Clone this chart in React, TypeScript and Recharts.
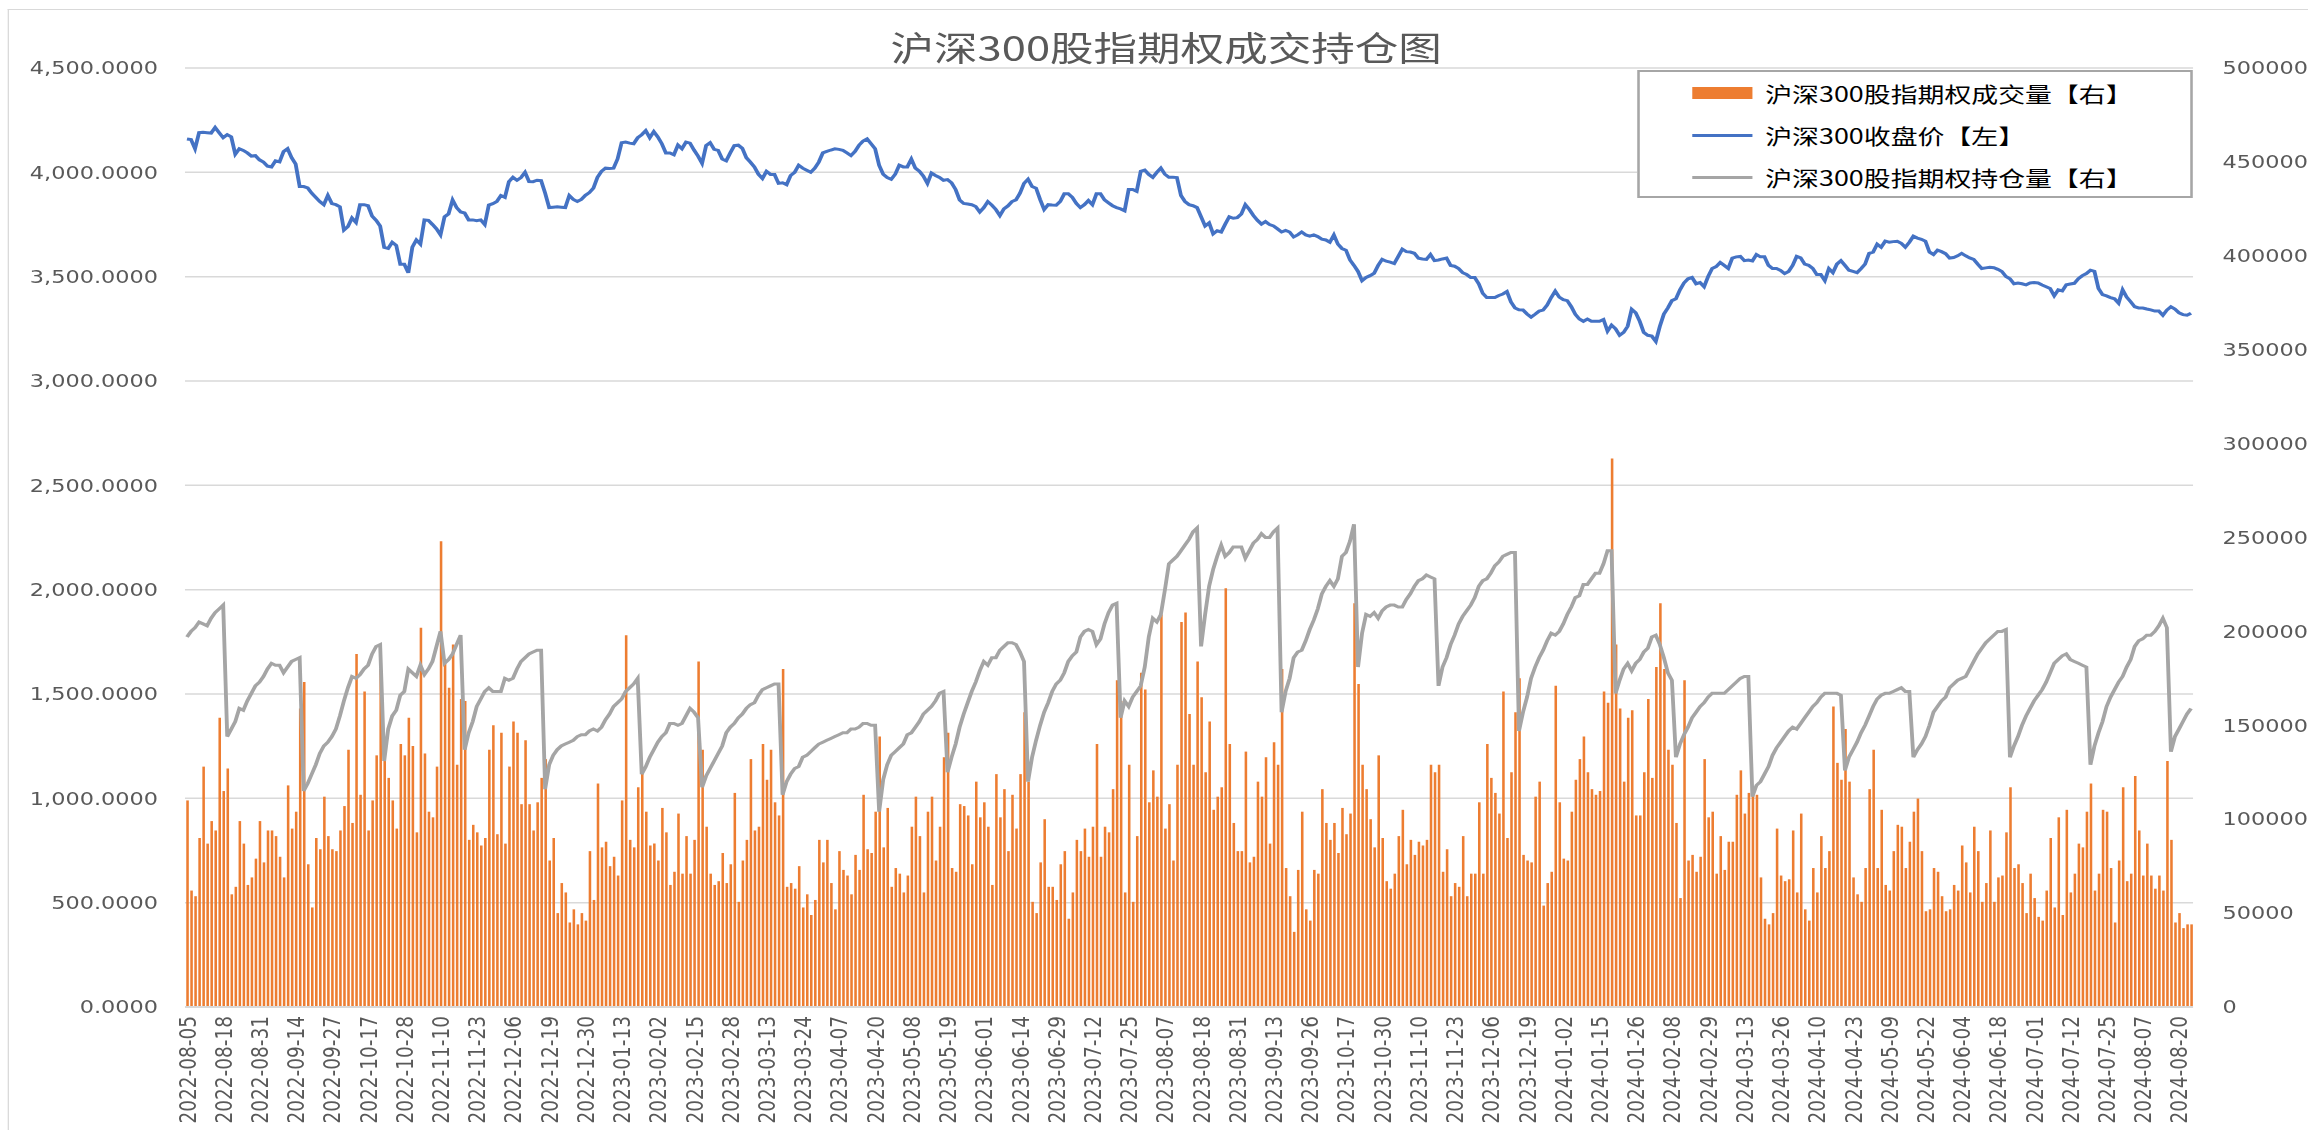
import React from "react";
import { ComposedChart, Bar, Line, XAxis, YAxis, CartesianGrid, Legend } from "recharts";

// The reference picture is stretched sideways; draw at a narrower base width and stretch back.
const W = 1803;
const H = 1130;
const STRETCH = 2308 / W;

const xLabels = [
  "2022-08-05", "2022-08-18", "2022-08-31", "2022-09-14", "2022-09-27", "2022-10-17", "2022-10-28",
  "2022-11-10", "2022-11-23", "2022-12-06", "2022-12-19", "2022-12-30", "2023-01-13", "2023-02-02",
  "2023-02-15", "2023-02-28", "2023-03-13", "2023-03-24", "2023-04-07", "2023-04-20", "2023-05-08",
  "2023-05-19", "2023-06-01", "2023-06-14", "2023-06-29", "2023-07-12", "2023-07-25", "2023-08-07",
  "2023-08-18", "2023-08-31", "2023-09-13", "2023-09-26", "2023-10-17", "2023-10-30", "2023-11-10",
  "2023-11-23", "2023-12-06", "2023-12-19", "2024-01-02", "2024-01-15", "2024-01-26", "2024-02-08",
  "2024-02-29", "2024-03-13", "2024-03-26", "2024-04-10", "2024-04-23", "2024-05-09", "2024-05-22",
  "2024-06-04", "2024-06-18", "2024-07-01", "2024-07-12", "2024-07-25", "2024-08-07", "2024-08-20",
];

// 沪深300收盘价, one value per trading day
const closePrice = [
  4160, 4157, 4113, 4190, 4192, 4190, 4188, 4215, 4190, 4166, 4180, 4170, 4087, 4113, 4105, 4093, 4078, 4080,
  4060, 4049, 4030, 4026, 4055, 4050, 4099, 4113, 4070, 4040, 3932, 3932, 3925, 3900, 3880, 3860, 3845, 3889,
  3850, 3845, 3835, 3723, 3740, 3781, 3760, 3845, 3845, 3840, 3790, 3770, 3743, 3640, 3635, 3665, 3650, 3560,
  3560, 3519, 3641, 3676, 3656, 3772, 3770, 3750, 3729, 3700, 3787, 3801, 3868, 3831, 3810, 3805, 3772, 3772,
  3768, 3772, 3750, 3843, 3850, 3860, 3889, 3880, 3956, 3976, 3962, 3975, 4000, 3956, 3955, 3962, 3960, 3900,
  3831, 3833, 3835, 3833, 3831, 3889, 3870, 3860, 3870, 3890, 3903, 3924, 3976, 4005, 4020, 4018, 4020, 4064,
  4142, 4145,
  4140, 4137, 4166, 4180, 4200, 4166, 4195, 4170, 4137, 4093, 4093, 4084, 4131, 4113, 4145, 4140, 4107, 4078,
  4043, 4128, 4142, 4110, 4105, 4064, 4055, 4093, 4128, 4130, 4115, 4070, 4049, 4026, 3991, 3970, 4005, 3990,
  3990, 3947, 3950, 3941, 3985, 4000, 4034, 4020, 4010, 4000, 4020, 4049, 4093, 4100, 4107, 4113, 4110, 4105,
  4093, 4080,
  4100, 4130, 4150, 4160, 4137, 4113, 4034, 3991, 3975, 3967, 3991, 4034, 4026, 4026, 4064, 4020, 4005, 3982,
  3947, 3997, 3985, 3976, 3962, 3965, 3950, 3918, 3868, 3851, 3848, 3845, 3836, 3810, 3831, 3860, 3843, 3822,
  3793, 3825, 3839, 3860, 3868, 3900, 3947, 3967, 3932, 3924, 3870, 3822, 3845, 3843, 3842, 3860, 3897, 3897,
  3880,
  3851, 3831, 3845, 3865, 3845, 3897, 3897, 3868, 3854, 3840, 3831, 3825, 3816, 3918, 3918, 3909, 4005, 4011,
  3990, 3976, 4000, 4020, 3991, 3976, 3976, 3975, 3889, 3860, 3845, 3840, 3831, 3787, 3743, 3758, 3705, 3720,
  3714, 3752, 3787, 3780, 3783, 3800, 3845, 3822, 3793, 3770, 3752, 3764, 3750, 3743, 3729, 3714, 3722, 3714,
  3690, 3700,
  3714, 3700, 3694, 3700, 3692, 3680, 3676, 3665, 3700, 3656, 3635, 3627, 3580, 3554, 3525, 3481, 3496, 3505,
  3516, 3554, 3583, 3574, 3570, 3563, 3597, 3632, 3620, 3618, 3612, 3589, 3585, 3583, 3606, 3577, 3580, 3585,
  3589, 3554, 3550, 3539, 3519, 3510, 3496, 3496, 3466, 3420, 3400, 3400, 3400, 3410, 3417, 3429, 3379, 3350,
  3341, 3340,
  3321, 3306, 3320, 3335, 3340, 3364, 3400, 3431, 3402, 3390, 3385, 3356, 3320, 3297, 3286, 3297, 3286, 3286,
  3286, 3295, 3239, 3268, 3250, 3219, 3233, 3262, 3344, 3327, 3286, 3233, 3219, 3215, 3190, 3262, 3321, 3350,
  3385, 3394, 3437, 3470, 3490, 3496, 3466, 3472, 3452, 3501, 3539, 3548, 3568, 3554, 3539, 3589, 3595, 3597,
  3577, 3580,
  3575, 3606, 3595, 3595, 3554, 3539, 3539, 3530, 3515, 3525, 3554, 3597, 3590, 3560, 3554, 3540, 3510, 3510,
  3481, 3539, 3519, 3560, 3577, 3554, 3531, 3525, 3519, 3539, 3560, 3612, 3618, 3656, 3641, 3670, 3665, 3668,
  3670, 3660, 3641, 3665, 3694, 3685, 3679, 3670, 3618, 3606, 3627, 3620, 3610, 3589, 3592, 3600, 3612, 3600,
  3590, 3583,
  3560, 3539, 3542, 3545, 3543, 3535, 3525, 3501, 3490, 3466, 3470, 3466, 3461, 3470, 3472, 3470, 3460, 3452,
  3443, 3408, 3437, 3432, 3461, 3465, 3468, 3490, 3505, 3515, 3531, 3525, 3443, 3414, 3408, 3400, 3394, 3373,
  3437, 3402, 3380, 3356, 3350, 3350, 3345, 3341, 3335, 3335, 3315, 3340, 3356, 3345, 3327, 3318, 3315, 3325,
];

// 沪深300股指期权成交量 (contracts)
const optionVolume = [
  110000, 62000, 59000, 90000, 128000, 87000, 99000, 94000, 154000, 115000, 127000, 60000, 64000, 99000,
  87000, 65000, 69000, 79000, 99000, 77000, 94000, 94000, 91000, 80000, 69000, 118000, 95000, 104000,
  159000, 173000, 76000, 53000, 90000, 84000, 112000, 91000, 84000, 83000, 94000, 107000, 137000, 98000,
  188000, 113000, 168000, 94000, 110000, 134000, 180000, 142000, 122000, 110000, 95000, 140000,
  134000, 154000, 139000, 93000, 202000, 135000, 104000, 101000, 128000, 248000, 183000, 170000, 193000, 129000,
  164000, 163000, 89000, 97000, 93000, 86000, 90000, 137000, 150000, 92000, 146000, 87000, 128000, 152000,
  146000, 108000, 142000, 108000, 94000, 109000, 122000, 132000, 78000, 90000, 50000, 66000, 61000, 45000,
  52000, 44000, 50000, 46000, 83000, 57000, 119000, 85000, 88000, 75000, 80000, 70000, 110000, 198000,
  89000, 85000, 117000, 125000, 104000, 86000, 87000, 78000, 106000, 93000, 65000, 72000, 103000, 71000,
  91000, 71000, 89000, 184000, 137000, 96000, 71000, 65000, 67000, 82000, 66000, 76000, 114000, 56000,
  78000, 89000, 132000, 94000, 96000, 140000, 121000, 137000, 109000, 102000, 180000, 64000, 66000, 63000,
  75000, 53000, 60000, 49000, 57000, 89000, 77000, 89000, 66000, 52000, 83000, 73000, 70000, 60000,
  81000, 73000, 113000, 84000, 82000, 104000, 144000, 85000, 106000, 64000, 74000, 71000, 61000, 70000,
  96000, 112000, 91000, 61000, 104000, 112000, 78000, 96000, 133000, 146000, 74000, 72000, 108000, 107000,
  102000, 76000, 120000, 101000, 109000, 96000, 65000, 124000, 101000, 116000, 83000, 113000, 95000, 124000,
  157000, 120000, 56000, 50000, 77000, 100000, 64000, 64000, 57000, 76000, 83000, 47000, 61000,
  89000, 83000, 95000, 80000, 96000, 140000, 80000, 96000, 93000, 116000, 174000, 163000, 61000, 129000,
  56000, 91000, 178000, 169000, 109000, 126000, 112000, 209000, 95000, 108000, 78000, 129000, 205000, 210000,
  156000, 129000, 184000, 165000, 125000, 152000, 105000, 112000, 117000, 223000, 140000, 98000, 83000, 83000,
  136000, 77000, 80000, 120000, 112000, 133000, 87000, 141000, 129000, 180000, 74000, 59000, 40000, 73000,
  104000, 52000, 46000, 73000, 71000, 116000, 98000, 89000, 98000, 82000, 106000, 92000, 103000, 215000,
  172000, 129000, 116000, 100000, 85000, 134000, 90000, 67000, 63000, 71000, 91000, 105000, 76000, 89000,
  81000, 88000, 86000, 89000, 129000, 125000, 129000, 72000, 84000, 59000, 66000, 64000, 91000, 59000,
  71000, 71000, 109000, 71000, 140000, 122000, 114000, 103000, 168000, 90000, 125000, 157000, 175000, 81000,
  78000, 77000, 112000, 120000, 54000, 66000, 72000, 171000, 109000, 79000, 78000, 104000, 121000, 132000,
  144000, 125000, 116000, 113000, 115000, 168000, 162000, 292000, 193000, 159000, 120000, 154000, 158000, 102000,
  102000, 125000, 164000, 122000, 181000, 215000, 180000, 137000, 129000, 98000, 58000, 174000, 78000, 81000,
  72000, 80000, 132000, 101000, 104000, 71000, 91000, 73000, 88000, 88000, 113000, 126000, 103000, 114000,
  113000, 113000, 69000, 47000, 44000, 50000, 95000, 70000, 67000, 68000, 94000, 61000, 103000, 52000,
  46000, 74000, 61000, 91000, 74000, 83000, 160000, 130000, 121000, 148000, 120000, 69000, 60000, 56000,
  74000, 116000, 137000, 74000, 105000, 65000, 62000, 83000, 97000, 96000, 74000, 88000, 104000, 111000,
  83000, 51000, 52000, 74000, 72000, 59000, 51000, 52000, 65000, 62000, 86000, 77000, 61000, 96000,
  83000, 56000, 66000, 94000, 56000, 69000, 70000, 93000, 117000, 74000, 76000, 66000, 50000, 71000,
  58000, 48000, 46000, 62000, 90000, 53000, 101000, 49000, 105000, 61000, 71000, 87000, 85000, 104000,
  119000, 62000, 71000, 105000, 104000, 74000, 45000, 78000, 117000, 67000, 71000, 123000, 94000, 70000,
  87000, 70000, 63000, 70000, 62000, 131000, 89000, 45000, 50000, 42000, 44000, 44000,
];

// 沪深300股指期权持仓量 (contracts)
const openInterest = [
  197000, 200000, 202000, 205000, 204000, 203000, 207000, 210000, 212000, 214000, 144000, 148000, 152000, 159000,
  158000, 163000, 167000, 171000, 173000, 176000, 180000, 183000, 182000, 182000, 178000, 181000, 184000, 185000,
  186000, 115000, 119000, 124000, 129000, 135000, 139000, 141000, 144000, 148000, 155000, 163000, 170000, 176000,
  175000, 177000, 180000, 182000, 188000, 192000, 193000, 131000, 148000, 155000, 158000, 166000,
  168000, 180000, 178000, 176000, 182000, 177000, 180000, 184000, 192000, 200000, 183000, 185000, 188000, 193000,
  198000, 137000, 146000, 152000, 160000, 164000, 168000, 170000, 168000, 168000, 168000, 175000, 174000, 175000,
  180000, 184000, 186000, 188000, 189000, 190000, 190000, 116000, 129000, 134000, 137000, 139000, 140000, 141000,
  142000, 144000, 145000, 145000, 147000, 148000, 147000, 149000, 153000, 156000, 160000, 162000, 164000, 168000,
  170000, 172000, 175000, 124000, 128000, 133000, 137000, 141000, 144000, 146000, 151000, 151000, 150000, 151000,
  155000, 159000, 157000, 154000, 117000, 123000, 127000, 131000, 135000, 139000, 146000, 149000, 151000, 154000,
  156000, 159000, 161000, 162000, 166000, 169000, 170000, 171000, 172000, 172000, 113000, 120000, 124000, 127000,
  128000, 133000, 134000, 136000, 138000, 140000, 141000, 142000, 143000, 144000, 145000, 146000, 146000, 148000,
  148000, 149000, 151000, 151000, 150000, 150000, 104000, 121000, 129000, 134000, 136000, 138000, 140000, 145000,
  146000, 149000, 152000, 156000, 158000, 160000, 163000, 167000, 168000, 125000, 133000, 140000, 149000, 156000,
  162000, 168000, 173000, 179000, 184000, 182000, 186000, 186000, 190000, 192000, 194000, 194000, 193000, 189000,
  184000, 120000, 133000, 142000, 150000, 157000, 162000, 168000, 172000, 174000, 178000, 184000, 187000,
  189000, 197000, 200000, 201000, 200000, 193000, 196000, 204000, 210000, 214000, 215000, 154000, 163000, 160000,
  165000, 168000, 171000, 181000, 197000, 207000, 205000, 209000, 222000, 236000, 238000, 240000, 243000, 246000,
  249000, 253000, 255000, 192000, 209000, 224000, 233000, 240000, 246000, 240000, 242000, 245000, 245000, 245000,
  239000, 243000, 247000, 249000, 252000, 250000, 250000, 253000, 255000, 157000, 168000, 175000, 186000, 189000,
  190000, 195000, 201000, 206000, 212000, 220000, 224000, 227000, 224000, 228000, 240000, 242000, 248000, 257000,
  181000, 199000, 209000, 208000, 210000, 207000, 211000, 213000, 214000, 214000, 213000, 213000, 217000, 220000,
  224000, 227000, 228000, 230000, 229000, 228000, 171000, 181000, 186000, 193000, 198000, 204000, 208000, 211000,
  214000, 218000, 224000, 227000, 228000, 231000, 235000, 237000, 240000, 241000, 242000, 242000, 147000, 157000,
  165000, 175000, 181000, 186000, 190000, 195000, 199000, 198000, 200000, 204000, 209000, 213000, 218000, 219000,
  225000, 225000, 228000, 231000, 231000, 236000, 243000, 243000, 167000, 174000, 180000, 183000, 179000, 183000,
  185000, 189000, 191000, 197000, 198000, 193000, 186000, 178000, 174000, 133000, 140000, 145000, 149000, 154000,
  157000, 160000, 162000, 165000, 167000, 167000, 167000, 167000, 169000, 171000, 173000, 175000, 176000, 176000,
  112000, 118000, 120000, 124000, 128000, 134000, 138000, 141000, 144000, 147000, 149000, 148000, 151000, 154000,
  157000, 160000, 162000, 165000, 167000, 167000, 167000, 167000, 166000, 126000, 133000, 137000, 141000, 146000,
  150000, 155000, 160000, 164000, 166000, 167000, 167000, 168000, 169000, 170000, 168000, 168000, 133000, 137000,
  140000, 144000, 150000, 157000, 160000, 163000, 165000, 170000, 172000, 174000, 175000, 176000, 180000, 184000,
  188000, 191000, 194000, 196000, 198000, 200000, 200000, 201000, 133000, 139000, 144000, 150000, 155000, 159000,
  163000, 166000, 169000, 173000, 178000, 183000, 185000, 187000, 188000, 185000, 184000, 183000, 182000, 181000,
  129000, 139000, 146000, 152000, 160000, 165000, 169000, 173000, 176000, 181000, 185000, 192000, 195000, 196000,
  198000, 198000, 200000, 203000, 207000, 202000, 136000, 144000, 148000, 152000, 156000, 159000,
];

const leftTicks = [0, 500, 1000, 1500, 2000, 2500, 3000, 3500, 4000, 4500];
const rightTicks = [0, 50000, 100000, 150000, 200000, 250000, 300000, 350000, 400000, 450000, 500000];
const legendOrder = ["volume", "price", "oi"];

const rows = closePrice.map((price, i) => ({
  i,
  price,
  volume: optionVolume[i],
  oi: openInterest[i],
}));

const tickFont = "'DejaVu Sans', sans-serif";
const cjkFont = "'Noto Sans CJK SC', 'Noto Sans', sans-serif";

const fmtLeft = (v: number) =>
  v.toLocaleString("en-US", { minimumFractionDigits: 4, maximumFractionDigits: 4 });

const LeftTick = ({ x, y, payload }: any) => (
  <text x={x} y={y} dy="0.36em" textAnchor="end" fill="#595959" fontSize={17.5} fontFamily={tickFont}>
    {fmtLeft(payload.value)}
  </text>
);

const RightTick = ({ x, y, payload }: any) => (
  <text x={x} y={y} dy="0.36em" textAnchor="start" fill="#595959" fontSize={17.5} fontFamily={tickFont}>
    {String(payload.value)}
  </text>
);

const DateTick = ({ x, y, payload }: any) => (
  <text
    transform={`translate(${x},${y}) rotate(-90)`}
    textAnchor="end"
    dy="0.36em"
    fill="#595959"
    fontSize={18.5}
    fontFamily={tickFont}
  >
    {xLabels[payload.value / 9] ?? ""}
  </text>
);

const renderLegend = ({ payload }: any) => {
  const items = [...(payload || [])].sort(
    (a: any, b: any) => legendOrder.indexOf(a.dataKey) - legendOrder.indexOf(b.dataKey)
  );
  return (
    <div
      style={{
        boxSizing: "border-box",
        width: 434,
        height: 128,
        border: "2px solid #a6a6a6",
        background: "#fff",
        fontFamily: cjkFont,
        fontSize: 21,
        color: "#000",
      }}
    >
      {items.map((entry: any) => (
        <div key={entry.value} style={{ display: "flex", alignItems: "center", height: 42 }}>
          <span
            style={{
              display: "inline-block",
              marginLeft: 41,
              width: 47,
              height: entry.dataKey === "volume" ? 12 : 3,
              background: entry.color,
            }}
          />
          <span style={{ marginLeft: 10, whiteSpace: "nowrap" }}>{entry.value}</span>
        </div>
      ))}
    </div>
  );
};

export default function App() {
  return (
    <div
      style={{
        position: "absolute",
        left: 0,
        top: 0,
        width: 2308,
        height: H,
        overflow: "hidden",
        background: "#fff",
      }}
    >
      <div
        style={{
          position: "relative",
          width: W,
          height: H,
          transform: `scaleX(${STRETCH})`,
          transformOrigin: "0 0",
        }}
      >
        <div
          style={{
            position: "absolute",
            left: 6.25,
            top: 9,
            width: W + 50,
            height: H + 50,
            borderTop: "1px solid #d9d9d9",
            borderLeft: "1px solid #d9d9d9",
          }}
        />
        <div
          style={{
            position: "absolute",
            left: 511,
            top: 30,
            width: 800,
            textAlign: "center",
            fontFamily: cjkFont,
            fontSize: 34,
            lineHeight: "34px",
            color: "#595959",
          }}
        >
          沪深300股指期权成交持仓图
        </div>
        <ComposedChart
          width={W}
          height={H}
          data={rows}
          margin={{ top: 68, right: 0, bottom: 0, left: 0 }}
        >
          <CartesianGrid yAxisId="left" vertical={false} stroke="#d9d9d9" strokeWidth={1.5} />
          <XAxis
            dataKey="i"
            interval={8}
            height={123}
            tickLine={false}
            tickMargin={3}
            axisLine={{ stroke: "#d9d9d9", strokeWidth: 2 }}
            tick={<DateTick />}
          />
          <YAxis
            yAxisId="left"
            orientation="left"
            width={144.5}
            domain={[0, 4500]}
            ticks={leftTicks}
            interval={0}
            axisLine={false}
            tickLine={false}
            tickMargin={15}
            tick={<LeftTick />}
          />
          <YAxis
            yAxisId="right"
            orientation="right"
            width={89.8}
            domain={[0, 500000]}
            ticks={rightTicks}
            interval={0}
            axisLine={false}
            tickLine={false}
            tickMargin={17}
            tick={<RightTick />}
          />
          <Legend
            layout="horizontal"
            verticalAlign="middle"
            align="center"
            wrapperStyle={{ left: 1279, top: 70, width: 434, height: 128 }}
            content={renderLegend}
          />
          <Bar
            yAxisId="right"
            dataKey="volume"
            name="沪深300股指期权成交量【右】"
            fill="#ED7D31"
            barSize={2}
            legendType="rect"
            isAnimationActive={false}
          />
          <Line
            yAxisId="left"
            type="linear"
            dataKey="price"
            name="沪深300收盘价【左】"
            stroke="#4472C4"
            strokeWidth={3}
            dot={false}
            activeDot={false}
            legendType="line"
            isAnimationActive={false}
          />
          <Line
            yAxisId="right"
            type="linear"
            dataKey="oi"
            name="沪深300股指期权持仓量【右】"
            stroke="#A5A5A5"
            strokeWidth={3}
            dot={false}
            activeDot={false}
            legendType="line"
            isAnimationActive={false}
          />
        </ComposedChart>
      </div>
    </div>
  );
}
